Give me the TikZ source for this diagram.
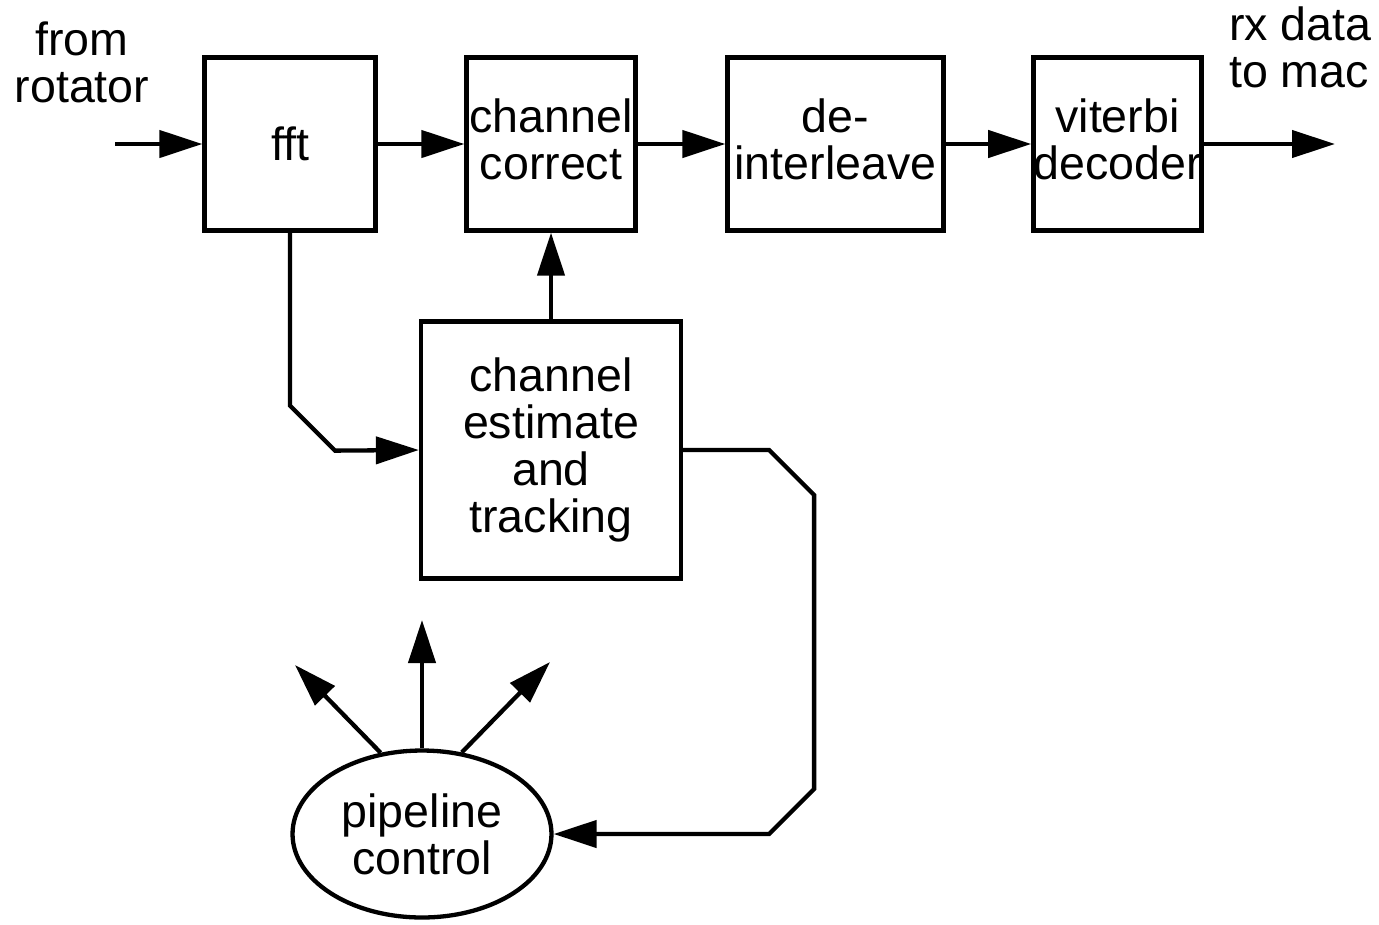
\documentclass[tikz,border=0pt]{standalone}
\usepackage{fontspec}
\setmainfont{Liberation Sans}
\usetikzlibrary{arrows.meta,shapes.geometric}

\begin{document}
\begin{tikzpicture}[x=0.02cm,y=-0.02cm,line width=0.086cm,
    >={Triangle[length=0.86cm,width=0.54cm]},
    every node/.style={font=\fontsize{26.5}{26.7}\selectfont, align=center, inner sep=0pt},
    blk/.style={draw, rectangle, minimum height=3.46cm}]
            \useasboundingbox (0,0) rectangle (1379,924);

            % Top row
            \node[blk, minimum width=3.42cm] (fft) at (290,144) {fft};
            \node[blk, minimum width=3.38cm] (cc) at (551,144) {channel\\correct\vphantom{p}};
            \node[blk, minimum width=4.32cm] (di) at (835.5,144) {de-\\interleave\vphantom{p}};
            \node[blk, minimum width=3.36cm] (vd) at (1117.5,144) {viterbi\\decoder\vphantom{p}};

            % Estimation and control
            \node[draw, rectangle, minimum width=5.2cm, minimum height=5.14cm] (ce) at (551,450) {channel\\estimate\\and\\tracking};
            \node[draw, ellipse, minimum width=5.18cm, minimum height=3.34cm] (pc) at (422,834) {pipeline\\control};

            % Labels
            \node (from) at (82,62) {from\\rotator};
            \node[align=left, anchor=west] (rx) at (1227,47) {rx data\\to mac};

            % Free ends
            \coordinate (in) at (115,144);
            \coordinate (out) at (1335,144);
            \coordinate (c1) at (295,665);
            \coordinate (c2) at (422,620);
            \coordinate (c3) at (550,662);

            % Data path
            \draw[->] (in) -- (fft);
            \draw[->] (fft) -- (cc);
            \draw[->] (cc) -- (di);
            \draw[->] (di) -- (vd);
            \draw[->] (vd) -- (out);
            \draw[->] (fft.south) -- ++(0,173) -- ++(45,45) -- (ce.west);
            \draw[->] (ce) -- (cc);
            \draw[->] (ce.east) -- ++(86,0) -- ++(45,45) -- ++(0,294) -- ++(-45,45) -- (pc.east);

            % Control outputs
            \draw[->] (pc.117) -- (c1);
            \draw[->] (pc.north) -- (c2);
            \draw[->] (pc.64) -- (c3);
\end{tikzpicture}
\end{document}
